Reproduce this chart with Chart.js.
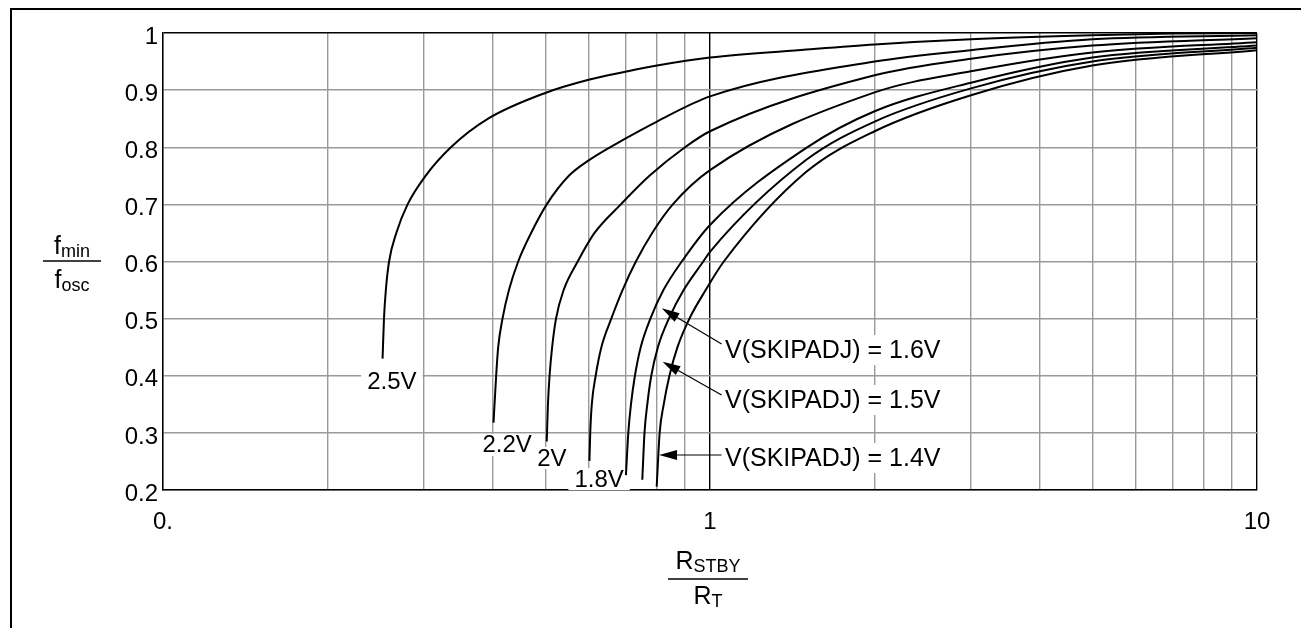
<!DOCTYPE html>
<html>
<head>
<meta charset="utf-8">
<title>fmin / fosc vs RSTBY / RT</title>
<script src="https://cdn.jsdelivr.net/npm/chart.js@4.4.1/dist/chart.umd.min.js"></script>
<style>
    html, body { margin: 0; padding: 0; background: #fff; }
</style>
</head>
<body>
<canvas id="skipChart" width="1301" height="628"></canvas>
<script>
// ========================================
// Data
// ========================================
const curveNames = ['2.5V', '2.2V', '2V', '1.8V', '1.6V', '1.5V', '1.4V'];

const ratio_2v5 = [0.252, 0.2535, 0.2555, 0.259, 0.267, 0.280, 0.302, 0.336, 0.393, 0.5, 0.6, 0.7, 0.8, 1.0, 1.5, 2, 3, 5, 7, 10];
const fmin_2v5  = [0.430, 0.500, 0.550, 0.600, 0.650, 0.700, 0.750, 0.800, 0.850, 0.895, 0.918, 0.932, 0.943, 0.957, 0.971, 0.980, 0.989, 0.996, 0.999, 1.0];

const ratio_2v2 = [0.402, 0.4065, 0.410, 0.4175, 0.429, 0.446, 0.471, 0.503, 0.552, 0.6, 0.7, 0.8, 1.0, 2, 3, 5, 10];
const fmin_2v2  = [0.318, 0.400, 0.450, 0.500, 0.550, 0.600, 0.650, 0.700, 0.750, 0.777, 0.815, 0.845, 0.889, 0.950, 0.970, 0.989, 0.996];

const ratio_2v0 = [0.503, 0.5055, 0.509, 0.5145, 0.523, 0.540, 0.573, 0.615, 0.687, 0.775, 0.9, 1.0, 2, 3, 5, 10];
const fmin_2v0  = [0.285, 0.350, 0.400, 0.450, 0.500, 0.550, 0.600, 0.650, 0.700, 0.750, 0.800, 0.828, 0.926, 0.955, 0.978, 0.991];

const ratio_1v8 = [0.602, 0.604, 0.608, 0.618, 0.633, 0.660, 0.692, 0.732, 0.784, 0.855, 1.0, 2, 3, 5, 10];
const fmin_1v8  = [0.251, 0.300, 0.350, 0.400, 0.450, 0.500, 0.550, 0.600, 0.650, 0.700, 0.760, 0.896, 0.933, 0.966, 0.984];

const ratio_1v6 = [0.702, 0.709, 0.717, 0.729, 0.747, 0.778, 0.822, 0.888, 1.0, 1.5, 2, 3, 5, 10];
const fmin_1v6  = [0.226, 0.300, 0.350, 0.400, 0.450, 0.500, 0.550, 0.600, 0.664, 0.799, 0.863, 0.913, 0.957, 0.978];

const ratio_1v5 = [0.752, 0.759, 0.768, 0.781, 0.803, 0.841, 0.895, 0.972, 1.0, 1.5, 2, 3, 5, 10];
const fmin_1v5  = [0.218, 0.300, 0.350, 0.400, 0.450, 0.500, 0.550, 0.600, 0.617, 0.778, 0.845, 0.903, 0.950, 0.974];

const ratio_1v4 = [0.799, 0.809, 0.823, 0.843, 0.872, 0.917, 0.982, 1.06, 1.5, 2, 3, 5, 10];
const fmin_1v4  = [0.206, 0.300, 0.350, 0.400, 0.450, 0.500, 0.550, 0.600, 0.757, 0.828, 0.891, 0.943, 0.970];

const ratioSets = [ratio_2v5, ratio_2v2, ratio_2v0, ratio_1v8, ratio_1v6, ratio_1v5, ratio_1v4];
const fminSets  = [fmin_2v5, fmin_2v2, fmin_2v0, fmin_1v8, fmin_1v6, fmin_1v5, fmin_1v4];

// Axis ticks
const xGridValues  = [0.1, 0.2, 0.3, 0.4, 0.5, 0.6, 0.7, 0.8, 0.9, 1, 2, 3, 4, 5, 6, 7, 8, 9, 10];
const xLabelValues = [0.1, 1, 10];
const xLabelTexts  = ['0.', '1', '10'];
const yGridValues  = [0.2, 0.3, 0.4, 0.5, 0.6, 0.7, 0.8, 0.9, 1];
const yLabelTexts  = ['0.2', '0.3', '0.4', '0.5', '0.6', '0.7', '0.8', '0.9', '1'];

// Where the curve names sit (data coords)
const curveLabelX = [0.262, 0.4256, 0.514, 0.627];
const curveLabelY = [0.391, 0.279, 0.256, 0.219];

// Callouts for the three low-voltage curves
const calloutTexts = ['V(SKIPADJ) = 1.6V', 'V(SKIPADJ) = 1.5V', 'V(SKIPADJ) = 1.4V'];
const calloutTextX = [1.065, 1.065, 1.065];
const calloutTextY = [0.445, 0.3576, 0.256];
const arrowFromX   = [1.05, 1.05, 1.05];
const arrowFromY   = [0.4556, 0.3663, 0.2613];
const arrowToX     = [0.816, 0.819, 0.807];
const arrowToY     = [0.518, 0.4246, 0.2613];

// ========================================
// Helpers
// ========================================
const FONT = "'Liberation Sans', Arial, Helvetica, sans-serif";

function drawSubText(ctx, main, sub, cx, baseline, mainSize, subSize) {
    ctx.font = mainSize + 'px ' + FONT;
    const w1 = ctx.measureText(main).width;
    ctx.font = subSize + 'px ' + FONT;
    const w2 = ctx.measureText(sub).width;
    const left = cx - (w1 + w2) / 2;
    ctx.textAlign = 'left';
    ctx.textBaseline = 'alphabetic';
    ctx.font = mainSize + 'px ' + FONT;
    ctx.fillText(main, left, baseline);
    ctx.font = subSize + 'px ' + FONT;
    ctx.fillText(sub, left + w1, baseline + 3);
}

function drawArrow(ctx, x1, y1, x2, y2) {
    const ang = Math.atan2(y2 - y1, x2 - x1);
    const len = 18, half = 5;
    ctx.beginPath();
    ctx.moveTo(x1, y1);
    ctx.lineTo(x2 - Math.cos(ang) * len, y2 - Math.sin(ang) * len);
    ctx.stroke();
    ctx.beginPath();
    ctx.moveTo(x2, y2);
    ctx.lineTo(x2 - Math.cos(ang) * len - Math.sin(ang) * half, y2 - Math.sin(ang) * len + Math.cos(ang) * half);
    ctx.lineTo(x2 - Math.cos(ang) * len + Math.sin(ang) * half, y2 - Math.sin(ang) * len - Math.cos(ang) * half);
    ctx.closePath();
    ctx.fill();
}

// ========================================
// Decorations: frame, titles, labels, callouts
// ========================================
const decorPlugin = {
    id: 'decor',
    beforeDatasetsDraw(chart) {
        const { ctx, scales: { x, y } } = chart;
        ctx.save();
        ctx.textBaseline = 'middle';

        // curve names with a white box behind
        ctx.font = '24px ' + FONT;
        ctx.textAlign = 'center';
        curveLabelX.forEach((v, i) => {
            const px = x.getPixelForValue(v);
            const py = y.getPixelForValue(curveLabelY[i]);
            const w = ctx.measureText(curveNames[i]).width;
            ctx.fillStyle = '#fff';
            ctx.fillRect(px - w / 2 - 6, py - 11, w + 12, 22);
            ctx.fillStyle = '#000';
            ctx.fillText(curveNames[i], px, py + 1);
        });

        // callout texts
        ctx.font = '25px ' + FONT;
        ctx.textAlign = 'left';
        calloutTexts.forEach((t, i) => {
            const px = x.getPixelForValue(calloutTextX[i]);
            const py = y.getPixelForValue(calloutTextY[i]);
            const w = ctx.measureText(t).width;
            ctx.fillStyle = '#fff';
            ctx.fillRect(px - 3, py - 15, w + 6, 30);
            ctx.fillStyle = '#000';
            ctx.fillText(t, px, py + 1);
        });
        ctx.restore();
    },
    afterDatasetsDraw(chart) {
        const { ctx, scales: { x, y } } = chart;
        ctx.save();
        ctx.strokeStyle = '#000';
        ctx.fillStyle = '#000';
        ctx.lineWidth = 1.2;
        arrowFromX.forEach((v, i) => {
            drawArrow(ctx,
                x.getPixelForValue(v), y.getPixelForValue(arrowFromY[i]),
                x.getPixelForValue(arrowToX[i]), y.getPixelForValue(arrowToY[i]));
        });
        ctx.restore();
    },
    afterDraw(chart) {
        const ctx = chart.ctx;
        ctx.save();

        // outer frame (only top and left edges are inside the picture)
        ctx.strokeStyle = '#000';
        ctx.lineWidth = 2;
        ctx.beginPath();
        ctx.moveTo(11, 628);
        ctx.lineTo(11, 9);
        ctx.lineTo(1301, 9);
        ctx.stroke();

        ctx.fillStyle = '#000';
        ctx.lineWidth = 1.5;

        // y title: fmin / fosc
        drawSubText(ctx, 'f', 'min', 72, 254, 25, 18);
        ctx.beginPath();
        ctx.moveTo(43, 261);
        ctx.lineTo(101, 261);
        ctx.stroke();
        drawSubText(ctx, 'f', 'osc', 72, 288, 25, 18);

        // x title: RSTBY / RT
        const xc = chart.scales.x.getPixelForValue(1);
        drawSubText(ctx, 'R', 'STBY', xc - 2, 569, 25, 18);
        ctx.beginPath();
        ctx.moveTo(xc - 42, 579);
        ctx.lineTo(xc + 38, 579);
        ctx.stroke();
        drawSubText(ctx, 'R', 'T', xc - 2, 604, 25, 18);

        ctx.restore();
    }
};

// ========================================
// Chart
// ========================================
const datasets = curveNames.map((name, i) => ({
    label: name,
    data: ratioSets[i].map((r, k) => ({ x: r, y: fminSets[i][k] })),
    borderColor: '#000',
    borderWidth: 2,
    pointRadius: 0,
    fill: false,
    cubicInterpolationMode: 'monotone'
}));

const gridColor = (ctx, darkValues) =>
    (ctx.tick && darkValues.includes(ctx.tick.value)) ? '#000' : '#9a9a9a';

new Chart(document.getElementById('skipChart'), {
    type: 'line',
    data: { datasets: datasets },
    options: {
        responsive: false,
        animation: false,
        devicePixelRatio: 1,
        layout: { padding: { top: 33, right: 44, left: 0, bottom: 0 } },
        plugins: {
            legend: { display: false },
            tooltip: { enabled: false }
        },
        scales: {
            x: {
                type: 'logarithmic',
                min: 0.1,
                max: 10,
                afterBuildTicks: s => { s.ticks = xGridValues.map(v => ({ value: v })); },
                afterFit: s => { s.height = 138; },
                grid: {
                    color: c => gridColor(c, [1, 10]),
                    lineWidth: 1.4,
                    drawTicks: false
                },
                border: { color: '#000', width: 1.5 },
                ticks: {
                    autoSkip: false,
                    maxRotation: 0,
                    padding: 18,
                    color: '#000',
                    font: { family: FONT, size: 24 },
                    callback: v => {
                        const k = xLabelValues.indexOf(v);
                        return k < 0 ? '' : xLabelTexts[k];
                    }
                }
            },
            y: {
                type: 'linear',
                min: 0.2,
                max: 1,
                afterBuildTicks: s => { s.ticks = yGridValues.map(v => ({ value: v })); },
                afterFit: s => { s.width = 163; },
                grid: {
                    color: c => gridColor(c, [1]),
                    lineWidth: 1.4,
                    drawTicks: false
                },
                border: { color: '#000', width: 1.5 },
                ticks: {
                    padding: 5,
                    labelOffset: 4,
                    color: '#000',
                    font: { family: FONT, size: 24 },
                    callback: (v, i) => yLabelTexts[i]
                }
            }
        }
    },
    plugins: [decorPlugin]
});
</script>
</body>
</html>
